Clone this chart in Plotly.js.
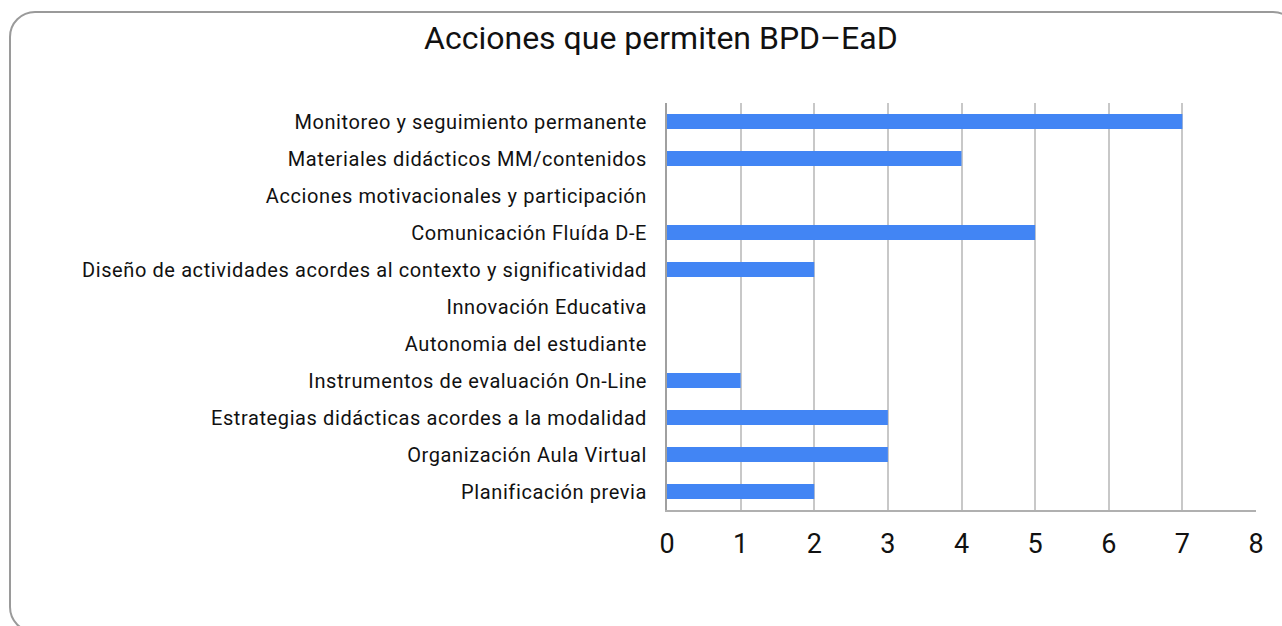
<!DOCTYPE html>
<html>
<head>
<meta charset="utf-8">
<script src="https://cdn.plot.ly/plotly-3.0.1.min.js"></script>
<style>
html, body { margin: 0; padding: 0; background: #ffffff; overflow: hidden; }
#frame { position: absolute; left: 9px; top: 11px; width: 1290px; height: 622px; border: 2px solid #9a9a9a; border-radius: 26px; box-sizing: border-box; }
#chart { position: absolute; left: 0; top: 0; width: 1282px; height: 626px; }
#chart .ytick text { letter-spacing: 0.6px; }
</style>
</head>
<body>
<div id="frame"></div>
<div id="chart"></div>
<script>
const categories = [
  "Monitoreo y seguimiento permanente",
  "Materiales didácticos MM/contenidos",
  "Acciones motivacionales y participación",
  "Comunicación Fluída D-E",
  "Diseño de actividades acordes al contexto y significatividad",
  "Innovación Educativa",
  "Autonomia del estudiante",
  "Instrumentos de evaluación On-Line",
  "Estrategias didácticas acordes a la modalidad",
  "Organización Aula Virtual",
  "Planificación previa"
];
const values = [7, 4, 0, 5, 2, 0, 0, 1, 3, 3, 2];
const xTicks = [0, 1, 2, 3, 4, 5, 6, 7, 8];

const trace = {
  type: 'bar',
  orientation: 'h',
  y: categories,
  x: values,
  marker: { color: '#4285f4' },
  hoverinfo: 'x+y'
};

const layout = {
  width: 1282,
  height: 626,
  paper_bgcolor: 'rgba(0,0,0,0)',
  plot_bgcolor: 'rgba(0,0,0,0)',
  font: { family: 'Roboto, sans-serif', color: '#111111' },
  title: {
    text: 'Acciones que permiten BPD–EaD',
    font: { size: 32, family: 'Roboto, sans-serif', color: '#111111' },
    x: 0.5155, xanchor: 'center',
    y: 0.939, yanchor: 'middle'
  },
  margin: { l: 667, r: 26, t: 103, b: 116, pad: 0 },
  bargap: 0.6,
  showlegend: false,
  xaxis: {
    range: [0, 8],
    tickvals: xTicks,
    ticktext: xTicks.map(String),
    tickfont: { size: 27, color: '#111111' },
    ticks: 'outside',
    ticklen: 9,
    tickcolor: 'rgba(0,0,0,0)',
    showgrid: true,
    gridcolor: '#c8c8c8',
    gridwidth: 1.5,
    zeroline: false,
    showline: true,
    linecolor: '#b0b0b0',
    linewidth: 2,
    fixedrange: true
  },
  yaxis: {
    type: 'category',
    autorange: 'reversed',
    tickfont: { size: 20, color: '#111111' },
    ticks: 'outside',
    ticklen: 14,
    tickcolor: 'rgba(0,0,0,0)',
    showgrid: false,
    zeroline: false,
    showline: true,
    linecolor: '#a0a0a0',
    linewidth: 2,
    fixedrange: true
  }
};

Plotly.newPlot('chart', [trace], layout, { displayModeBar: false, staticPlot: false });
</script>
</body>
</html>
